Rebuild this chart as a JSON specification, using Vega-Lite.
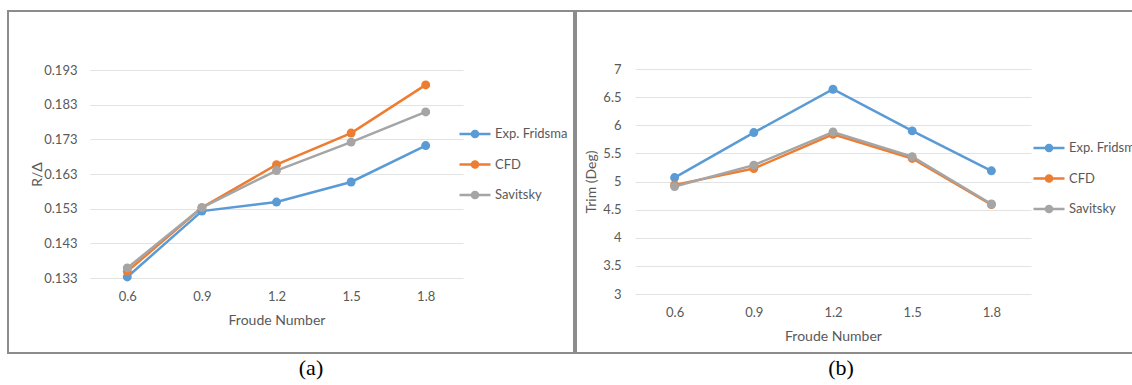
{
  "$schema": "https://vega.github.io/schema/vega-lite/v6.json",
  "padding": {"left": 7, "top": 10, "right": 0, "bottom": 0},
  "background": "white",
  "spacing": 0,
  "config": {
    "view": {"stroke": "#8c8c8c", "strokeWidth": 2},
    "font": "Lato",
    "axis": {
      "labelFont": "Lato", "titleFont": "Lato",
      "labelColor": "#595959", "titleColor": "#595959",
      "labelFontSize": 13, "titleFontSize": 14, "titleFontWeight": "normal",
      "domain": false, "ticks": false,
      "gridColor": "#e3e3e3", "gridWidth": 1
    },
    "legend": {
      "orient": "none", "title": null,
      "symbolType": "M-1,0H1M-0.2,0A0.2,0.2,0,1,1,0.2,0A0.2,0.2,0,1,1,-0.2,0M-0.1,0A0.1,0.1,0,1,1,0.1,0A0.1,0.1,0,1,1,-0.1,0",
      "symbolSize": 961, "symbolStrokeWidth": 2.5,
      "labelFont": "Lato", "labelFontSize": 13, "labelColor": "#595959",
      "labelOffset": 3, "rowPadding": 4.5, "padding": 0, "offset": 0
    },
    "title": {"font": "Liberation Serif", "fontSize": 22, "fontWeight": "normal", "color": "#000000"}
  },
  "resolve": {"scale": {"color": "independent"}, "legend": {"color": "independent"}},
  "hconcat": [
    {
      "width": 566, "height": 342,
      "title": {"text": "(a)", "orient": "bottom", "anchor": "middle", "frame": "group", "dx": 20, "offset": 5},
      "data": {"values": [
        {"F": 0.6, "S": "Exp. Fridsma", "V": 0.1333},
        {"F": 0.9, "S": "Exp. Fridsma", "V": 0.1523},
        {"F": 1.2, "S": "Exp. Fridsma", "V": 0.1549},
        {"F": 1.5, "S": "Exp. Fridsma", "V": 0.1607},
        {"F": 1.8, "S": "Exp. Fridsma", "V": 0.1712},
        {"F": 0.6, "S": "CFD", "V": 0.1349},
        {"F": 0.9, "S": "CFD", "V": 0.1533},
        {"F": 1.2, "S": "CFD", "V": 0.1657},
        {"F": 1.5, "S": "CFD", "V": 0.1748},
        {"F": 1.8, "S": "CFD", "V": 0.1887},
        {"F": 0.6, "S": "Savitsky", "V": 0.1359},
        {"F": 0.9, "S": "Savitsky", "V": 0.1533},
        {"F": 1.2, "S": "Savitsky", "V": 0.1640},
        {"F": 1.5, "S": "Savitsky", "V": 0.1722},
        {"F": 1.8, "S": "Savitsky", "V": 0.1809}
      ]},
      "mark": {"type": "line", "strokeWidth": 2.5, "point": {"filled": true, "size": 80}},
      "encoding": {
        "x": {
          "field": "F", "type": "ordinal",
          "scale": {"type": "point", "range": [82, 455], "padding": 0.5},
          "axis": {"title": "Froude Number", "labelAngle": 0, "offset": -75, "labelPadding": 12, "grid": false,
                   "titleX": 268.5, "titleY": 42, "titleBaseline": "middle", "titleAlign": "center"}
        },
        "y": {
          "field": "V", "type": "quantitative",
          "scale": {"domain": [0.133, 0.193], "range": [267, 59], "nice": false, "zero": false},
          "axis": {"title": "R/Δ", "values": [0.133, 0.143, 0.153, 0.163, 0.173, 0.183, 0.193], "format": ".3f",
                   "offset": -82, "labelPadding": 13, "grid": true,
                   "titleX": -53, "titleY": 163, "titleAngle": -90, "titleBaseline": "middle", "titleAlign": "center"}
        },
        "color": {
          "field": "S", "type": "nominal",
          "scale": {"domain": ["Exp. Fridsma", "CFD", "Savitsky"], "range": ["#5b9bd5", "#ed7d31", "#a5a5a5"]},
          "legend": {"legendX": 450, "legendY": 106}
        }
      }
    },
    {
      "width": 566, "height": 342,
      "title": {"text": "(b)", "orient": "bottom", "anchor": "middle", "frame": "group", "dx": -18, "offset": 5},
      "data": {"values": [
        {"F": 0.6, "S": "Exp. Fridsma", "V": 5.07},
        {"F": 0.9, "S": "Exp. Fridsma", "V": 5.87},
        {"F": 1.2, "S": "Exp. Fridsma", "V": 6.64},
        {"F": 1.5, "S": "Exp. Fridsma", "V": 5.90},
        {"F": 1.8, "S": "Exp. Fridsma", "V": 5.19},
        {"F": 0.6, "S": "CFD", "V": 4.94},
        {"F": 0.9, "S": "CFD", "V": 5.23},
        {"F": 1.2, "S": "CFD", "V": 5.84},
        {"F": 1.5, "S": "CFD", "V": 5.41},
        {"F": 1.8, "S": "CFD", "V": 4.59},
        {"F": 0.6, "S": "Savitsky", "V": 4.91},
        {"F": 0.9, "S": "Savitsky", "V": 5.29},
        {"F": 1.2, "S": "Savitsky", "V": 5.88},
        {"F": 1.5, "S": "Savitsky", "V": 5.44},
        {"F": 1.8, "S": "Savitsky", "V": 4.60}
      ]},
      "mark": {"type": "line", "strokeWidth": 2.5, "point": {"filled": true, "size": 80}},
      "encoding": {
        "x": {
          "field": "F", "type": "ordinal",
          "scale": {"type": "point", "range": [59, 455], "padding": 0.5},
          "axis": {"title": "Froude Number", "labelAngle": 0, "offset": -59, "labelPadding": 12, "grid": false,
                   "titleX": 257, "titleY": 42, "titleBaseline": "middle", "titleAlign": "center"}
        },
        "y": {
          "field": "V", "type": "quantitative",
          "scale": {"domain": [3, 7], "range": [283, 58], "nice": false, "zero": false},
          "axis": {"title": "Trim (Deg)", "values": [3, 3.5, 4, 4.5, 5, 5.5, 6, 6.5, 7], "format": "~g",
                   "offset": -59, "labelPadding": 14, "grid": true,
                   "titleX": -44, "titleY": 170.5, "titleAngle": -90, "titleBaseline": "middle", "titleAlign": "center"}
        },
        "color": {
          "field": "S", "type": "nominal",
          "scale": {"domain": ["Exp. Fridsma", "CFD", "Savitsky"], "range": ["#5b9bd5", "#ed7d31", "#a5a5a5"]},
          "legend": {"legendX": 456, "legendY": 120}
        }
      }
    }
  ]
}
